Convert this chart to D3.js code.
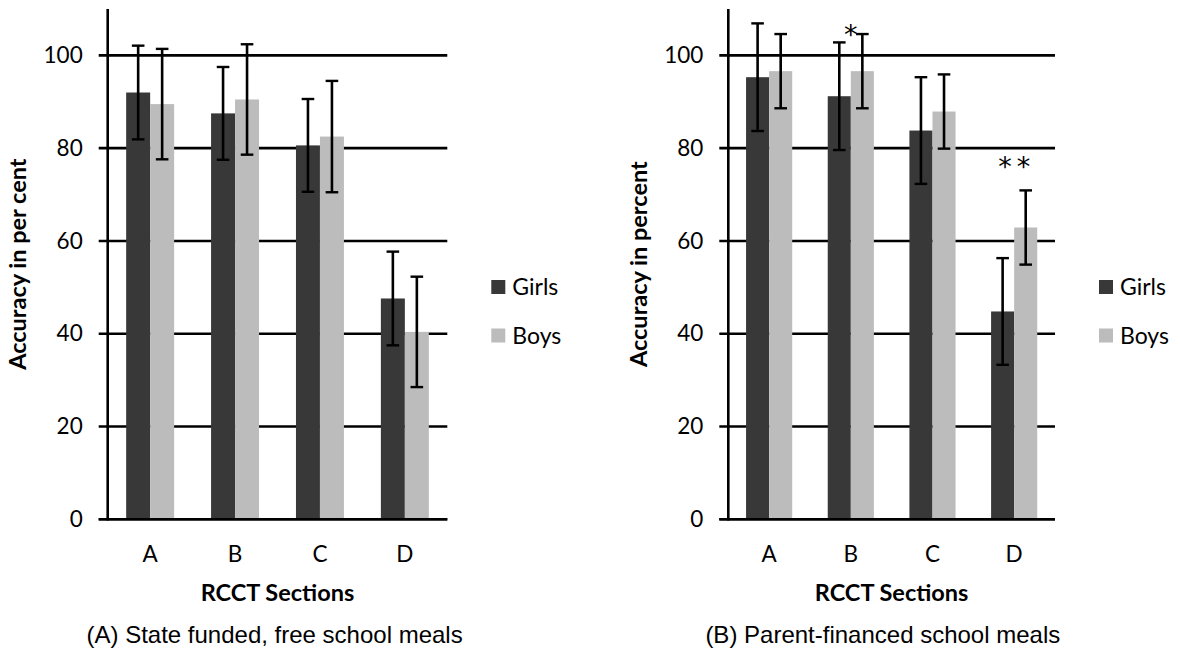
<!DOCTYPE html>
<html>
<head>
<meta charset="utf-8">
<script src="https://cdn.jsdelivr.net/npm/d3@7"></script>
<style>
body { margin: 0; background: #fff; }
svg { display: block; }
text { font-family: Lato, "Open Sans", sans-serif; fill: #000; }
</style>
</head>
<body>
<svg width="1181" height="651"></svg>
<script>
var categories = ["A", "B", "C", "D"];
var series = ["Girls", "Boys"];
var yTicks = [0, 20, 40, 60, 80, 100];

// panel A: state funded
var girlsA = [92.0, 87.5, 80.6, 47.6];
var girlsAErr = [10.1, 10.0, 10.0, 10.1];
var boysA = [89.5, 90.5, 82.5, 40.4];
var boysAErr = [11.9, 11.9, 12.0, 11.9];

// panel B: parent financed
var girlsB = [95.3, 91.2, 83.8, 44.8];
var girlsBErr = [11.6, 11.6, 11.5, 11.5];
var boysB = [96.6, 96.6, 87.9, 62.9];
var boysBErr = [8.0, 8.0, 8.0, 8.0];
var starsB = ["", "*", "", "**"];
var starsBY = [0, 105.2, 0, 76.8];

var colors = {Girls: "#383838", Boys: "#bcbcbc"};

var svg = d3.select("svg");

var plotTop = 9, plotBottom = 519.3;
var y = d3.scaleLinear().domain([0, 110]).range([plotBottom, plotTop]);

function panel(opt) {
  var x0 = opt.x0, x1 = opt.x1;
  var g = svg.append("g").attr("transform", "translate(" + x0 + ",0)");
  var w = x1 - x0;

  var x = d3.scaleBand().domain(categories).range([0, w])
    .paddingInner(0.435).paddingOuter(0.2175);
  var xs = d3.scaleBand().domain(series).range([0, x.bandwidth()]);

  // gridlines (incl. tick stubs left of axis)
  g.selectAll(".grid").data(yTicks).enter().append("line")
    .attr("x1", -9).attr("x2", w)
    .attr("y1", function(d){ return y(d); })
    .attr("y2", function(d){ return y(d); })
    .attr("stroke", "#000").attr("stroke-width", 2.6);

  var rows = [];
  categories.forEach(function(c, i){
    rows.push({cat: c, s: "Girls", v: opt.girls[i], e: opt.girlsErr[i]});
    rows.push({cat: c, s: "Boys", v: opt.boys[i], e: opt.boysErr[i]});
  });

  g.selectAll("rect.bar").data(rows).enter().append("rect")
    .attr("x", function(d){ return x(d.cat) + xs(d.s); })
    .attr("y", function(d){ return y(d.v); })
    .attr("width", xs.bandwidth())
    .attr("height", function(d){ return y(0) - y(d.v); })
    .attr("fill", function(d){ return colors[d.s]; });

  // baseline over bars
  g.append("line").attr("x1", -9).attr("x2", w)
    .attr("y1", y(0)).attr("y2", y(0))
    .attr("stroke", "#000").attr("stroke-width", 2.6);

  // error bars
  var cap = 6.3;
  var eb = g.selectAll("g.err").data(rows).enter().append("g")
    .attr("transform", function(d){ return "translate(" + (x(d.cat) + xs(d.s) + xs.bandwidth() / 2) + ",0)"; });
  eb.append("line")
    .attr("y1", function(d){ return y(d.v + d.e); })
    .attr("y2", function(d){ return y(d.v - d.e); })
    .attr("stroke", "#000").attr("stroke-width", 2.6);
  eb.append("line").attr("x1", -cap).attr("x2", cap)
    .attr("y1", function(d){ return y(d.v + d.e); })
    .attr("y2", function(d){ return y(d.v + d.e); })
    .attr("stroke", "#000").attr("stroke-width", 2.4);
  eb.append("line").attr("x1", -cap).attr("x2", cap)
    .attr("y1", function(d){ return y(d.v - d.e); })
    .attr("y2", function(d){ return y(d.v - d.e); })
    .attr("stroke", "#000").attr("stroke-width", 2.4);

  // y axis
  var yAxis = g.append("g").call(d3.axisLeft(y).tickValues(yTicks).tickSize(0).tickPadding(25));
  yAxis.select(".domain").remove();
  yAxis.selectAll("text").attr("font-size", 22.5).attr("font-family", "Lato").attr("fill", "#000");
  g.append("line").attr("x1", 0).attr("x2", 0)
    .attr("y1", plotTop).attr("y2", plotBottom + 1.3)
    .attr("stroke", "#000").attr("stroke-width", 2.6);

  // x axis labels
  var xAxis = g.append("g").attr("transform", "translate(0," + plotBottom + ")")
    .call(d3.axisBottom(x).tickSize(0).tickPadding(27));
  xAxis.select(".domain").remove();
  xAxis.selectAll("text").attr("font-size", 22.5).attr("font-family", "Lato").attr("fill", "#000");

  // significance stars
  if (opt.stars) {
    g.selectAll("text.star").data(categories).enter().append("text")
      .attr("x", function(d){ return x(d) + x.bandwidth() / 2 + 2.5; })
      .attr("y", function(d, i){ return y(opt.starsY[i]) + 13; })
      .attr("text-anchor", "middle")
      .style("font-family", "'DejaVu Sans', sans-serif")
      .attr("font-size", 27)
      .attr("letter-spacing", 5)
      .text(function(d, i){ return opt.stars[i]; });
  }

  // axis titles
  svg.append("text")
    .attr("transform", "translate(" + opt.yTitleX + "," + ((plotTop + plotBottom) / 2) + ") rotate(-90)")
    .attr("text-anchor", "middle").attr("font-size", 23.5).attr("font-weight", "bold")
    .text(opt.yTitle);
  g.append("text").attr("x", w / 2).attr("y", 601)
    .attr("text-anchor", "middle").attr("font-size", 23.5).attr("font-weight", "bold")
    .text("RCCT Sections");

  // legend
  var lg = g.selectAll("g.leg").data(series).enter().append("g")
    .attr("transform", function(d, i){ return "translate(" + (w + 44) + "," + (280 + i * 48.5) + ")"; });
  lg.append("rect").attr("width", 14).attr("height", 14)
    .attr("fill", function(d){ return colors[d]; });
  lg.append("text").attr("x", 21).attr("y", 15).attr("font-size", 23)
    .text(function(d){ return d; });

  // caption
  svg.append("text").attr("x", opt.capX).attr("y", 643)
    .attr("text-anchor", "middle")
    .style("font-family", "'Liberation Sans', Arial, sans-serif")
    .attr("font-size", 24)
    .text(opt.caption);
}

panel({x0: 107.7, x1: 447.3, girls: girlsA, girlsErr: girlsAErr, boys: boysA, boysErr: boysAErr,
  yTitle: "Accuracy in per cent", yTitleX: 26, capX: 274.6,
  caption: "(A) State funded, free school meals"});
panel({x0: 728.3, x1: 1055, girls: girlsB, girlsErr: girlsBErr, boys: boysB, boysErr: boysBErr,
  stars: starsB, starsY: starsBY,
  yTitle: "Accuracy in percent", yTitleX: 647, capX: 882.8,
  caption: "(B) Parent-financed school meals"});
</script>
</body>
</html>
